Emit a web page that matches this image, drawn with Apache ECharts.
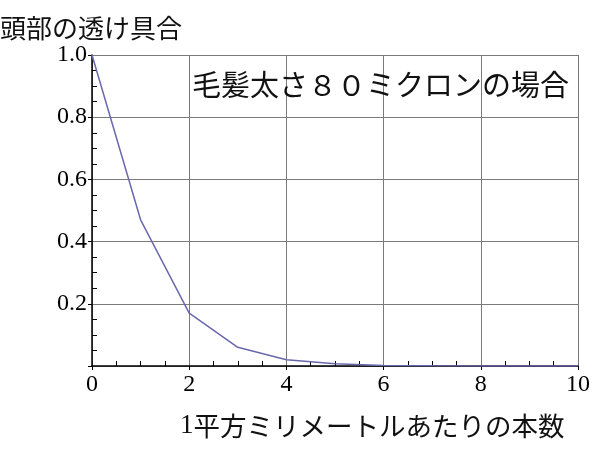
<!DOCTYPE html>
<html>
<head>
<meta charset="utf-8">
<script src="https://cdn.jsdelivr.net/npm/echarts@6/dist/echarts.min.js"></script>
<style>html,body{margin:0;padding:0;background:#fff}#c{width:600px;height:452px}</style>
</head>
<body>
<div id="c"></div>
<script>
const hairCount = [0, 1, 2, 3, 4, 5, 6, 7, 8, 9, 10];
const transparency = [1.0, 0.47, 0.17, 0.06, 0.02, 0.007, 0.002, 0.0008, 0.0003, 0.0001, 0.00004];
const yTickLabels = ['0.2', '0.4', '0.6', '0.8', '1.0'];
const xTickLabels = ['0', '2', '4', '6', '8', '10'];
const titleText = '頭部の透け具合';
const noteText = '毛髪太さ８０ミクロンの場合';
const xNameNum = '1';
const xNameRest = '平方ミリメートルあたりの本数';

const cjk = '"Noto Sans CJK JP", "Noto Sans", sans-serif';
const serif = '"Liberation Serif", "DejaVu Serif", serif';

const chart = echarts.init(document.getElementById('c'));
chart.setOption({
  animation: false,
  backgroundColor: '#fff',
  grid: { left: 92, right: 22, top: 55, bottom: 86 },
  xAxis: {
    type: 'value', min: 0, max: 10, interval: 2,
    axisLine: { show: true, onZero: false, lineStyle: { color: '#000', width: 1.5 } },
    axisTick: { show: true, inside: false, length: 4, lineStyle: { color: '#000' } },
    minorTick: { show: true, splitNumber: 4, length: -5, lineStyle: { color: '#000' } },
    splitLine: { show: true, lineStyle: { color: '#7a7a7a', width: 1 } },
    axisLabel: {
      fontFamily: serif, fontSize: 24, color: '#000', margin: 7,
      formatter: v => xTickLabels.includes(String(v)) ? String(v) : ''
    }
  },
  yAxis: {
    type: 'value', min: 0, max: 1.0, interval: 0.2,
    axisLine: { show: true, onZero: false, lineStyle: { color: '#000', width: 1.5 } },
    axisTick: { show: true, inside: false, length: 4, lineStyle: { color: '#000' } },
    minorTick: { show: true, splitNumber: 4, length: -5, lineStyle: { color: '#000' } },
    splitLine: { show: true, lineStyle: { color: '#7a7a7a', width: 1 } },
    axisLabel: {
      fontFamily: serif, fontSize: 24, color: '#000', margin: 5,
      formatter: v => {
        const s = v.toFixed(1);
        return yTickLabels.includes(s) ? s : '';
      }
    }
  },
  series: [{
    type: 'line',
    data: hairCount.map((x, i) => [x, transparency[i]]),
    showSymbol: false,
    lineStyle: { color: '#6a68ad', width: 1.5 },
    z: 5
  }],
  graphic: [
    { type: 'text', left: 0, top: 15,
      style: { text: titleText, font: '26px ' + cjk, fill: '#111' } },
    { type: 'text', left: 192, top: 70, z: 10,
      style: { text: noteText, font: '29px ' + cjk, fill: '#111' } },
    { type: 'text', left: 180, top: 412,
      style: {
        text: '{a|' + xNameNum + '}{b|' + xNameRest + '}',
        rich: {
          a: { fontFamily: serif, fontSize: 27, fill: '#111' },
          b: { fontFamily: cjk, fontSize: 26.5, fill: '#111' }
        }
      } }
  ]
});
</script>
</body>
</html>
